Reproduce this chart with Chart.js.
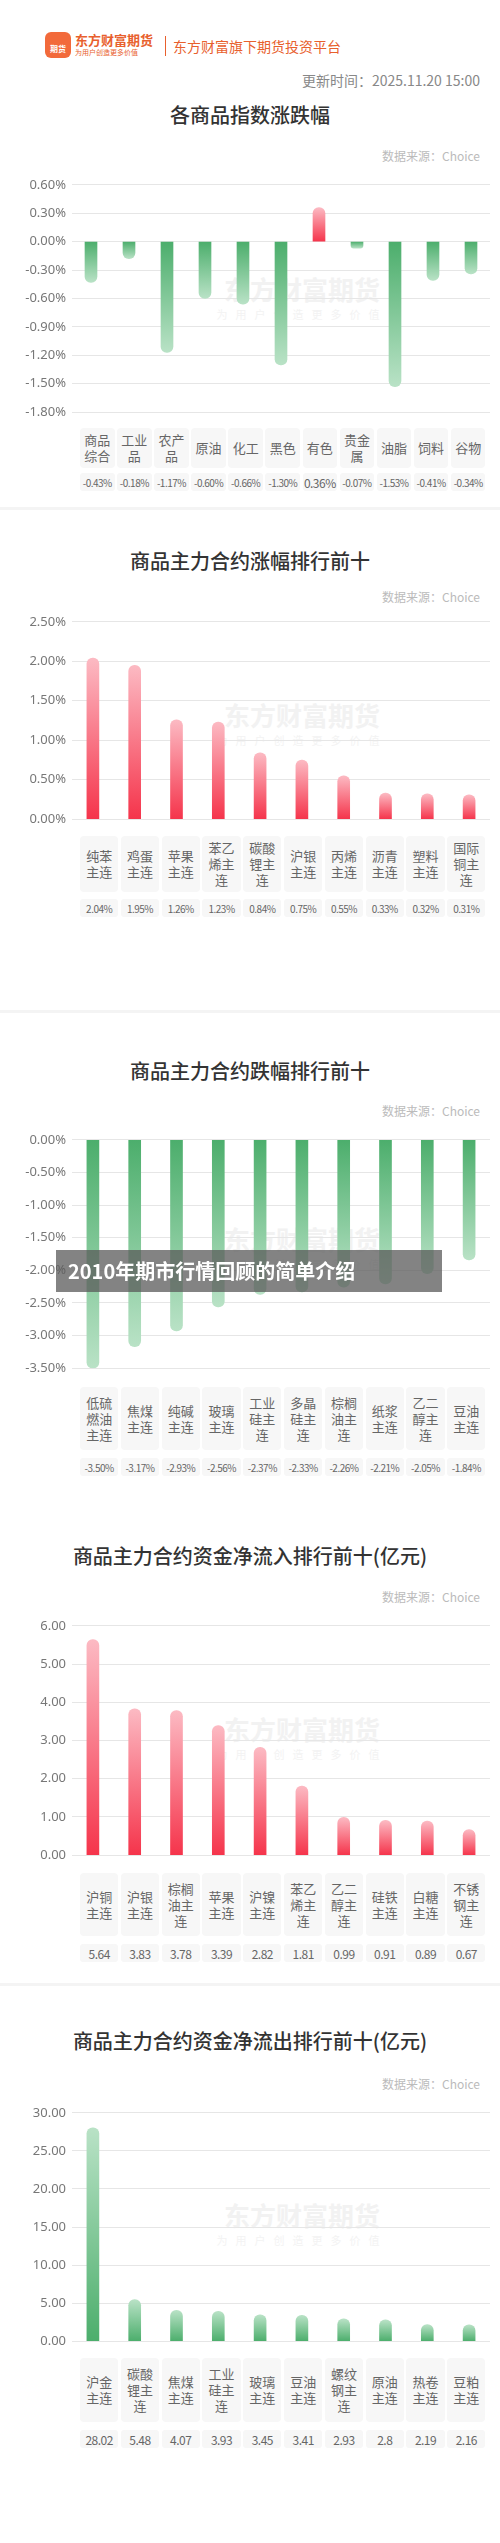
<!DOCTYPE html>
<html><head><meta charset="utf-8">
<script src="https://cdn.jsdelivr.net/npm/chart.js@4"></script>
<style>
body{margin:0;width:500px;height:2543px;background:#fff;font-family:"Noto Sans CJK SC","Noto Sans",sans-serif;position:relative;overflow:hidden}
.abs{position:absolute}
.title{left:0;width:500px;text-align:center;font-size:20px;color:#333;font-weight:500}
.src{right:20px;font-size:12px;color:#bbb}
.cell{position:absolute;background:#f7f7f7;border-radius:4px;color:#666;font-size:13px;line-height:16px;display:flex;align-items:center;justify-content:center;text-align:center;padding:0 2px;box-sizing:border-box;word-break:break-all}
.val{position:absolute;background:#f7f7f7;border-radius:3px;color:#666;font-size:10px;display:flex;align-items:center;justify-content:center;letter-spacing:-0.5px}
.sep{left:0;width:500px;height:3px;background:#f4f4f4}
.wm{width:500px;left:52px;text-align:center;color:#f2f2f2;font-size:26px;font-weight:bold}
.wm2{width:500px;left:52px;text-align:center;color:#f3f3f3;font-size:11px;letter-spacing:8px}
</style></head><body>
<div class="abs" style="left:45px;top:32px;width:26px;height:26px;background:#f26a3b;border-radius:6px;color:#fff;font-size:8px;text-align:center;line-height:34px;font-weight:bold">期货</div>
<div class="abs" style="left:75px;top:30px;color:#e8602d;font-size:13px;font-weight:bold">东方财富期货</div>
<div class="abs" style="left:75px;top:47px;color:#e8602d;font-size:7px">为用户创造更多价值</div>
<div class="abs" style="left:165px;top:36px;width:1px;height:20px;background:#e8602d"></div>
<div class="abs" style="left:173px;top:36px;color:#e8602d;font-size:14px">东方财富旗下期货投资平台</div>
<div class="abs" style="right:20px;top:70px;color:#888;font-size:14px">更新时间：2025.11.20 15:00</div>
<div class="abs sep" style="top:507px"></div>
<div class="abs sep" style="top:1010px"></div>
<div class="abs sep" style="top:1983px"></div>
<div id="root"></div>
<div class="abs" style="left:56px;top:1250px;width:386px;height:42px;background:rgba(90,90,90,0.75)"></div>
<div class="abs" style="left:68px;top:1252px;color:#fff;font-size:20px;font-weight:bold;line-height:38px">2010年期市行情回顾的简单介绍</div>
<script>
// 各商品指数涨跌幅
const idxCats = ['商品综合','工业品','农产品','原油','化工','黑色','有色','贵金属','油脂','饲料','谷物'];
const idxVals = [-0.43,-0.18,-1.17,-0.60,-0.66,-1.30,0.36,-0.07,-1.53,-0.41,-0.34];
const idxTicks = ['0.60%','0.30%','0.00%','-0.30%','-0.60%','-0.90%','-1.20%','-1.50%','-1.80%'];
// 涨幅前十
const upCats = ['纯苯主连','鸡蛋主连','苹果主连','苯乙烯主连','碳酸锂主连','沪银主连','丙烯主连','沥青主连','塑料主连','国际铜主连'];
const upVals = [2.04,1.95,1.26,1.23,0.84,0.75,0.55,0.33,0.32,0.31];
// 跌幅前十
const downCats = ['低硫燃油主连','焦煤主连','纯碱主连','玻璃主连','工业硅主连','多晶硅主连','棕榈油主连','纸浆主连','乙二醇主连','豆油主连'];
const downVals = [-3.50,-3.17,-2.93,-2.56,-2.37,-2.33,-2.26,-2.21,-2.05,-1.84];
// 资金净流入前十(亿元)
const inCats = ['沪铜主连','沪银主连','棕榈油主连','苹果主连','沪镍主连','苯乙烯主连','乙二醇主连','硅铁主连','白糖主连','不锈钢主连'];
const inVals = [5.64,3.83,3.78,3.39,2.82,1.81,0.99,0.91,0.89,0.67];
// 资金净流出前十(亿元)
const outCats = ['沪金主连','碳酸锂主连','焦煤主连','工业硅主连','玻璃主连','豆油主连','螺纹钢主连','原油主连','热卷主连','豆粕主连'];
const outVals = [28.02,5.48,4.07,3.93,3.45,3.41,2.93,2.8,2.19,2.16];

const RED = ['#fcbac3','#f5344b'];
const GREEN = ['#b9e2c6','#4cae6c'];

const sections = [
  {title:'各商品指数涨跌幅', tTop:100, sTop:147, top:179, bottom:418, min:-1.8, max:0.6, step:0.3, pct:true, cats:idxCats, vals:idxVals, labTop:428, labH:40, valTop:473, valLabels:null, wmTop:270},
  {title:'商品主力合约涨幅排行前十', tTop:546, sTop:588, top:616, bottom:825, min:0, max:2.5, step:0.5, pct:true, cats:upCats, vals:upVals, labTop:836, labH:56, valTop:899, wmTop:696},
  {title:'商品主力合约跌幅排行前十', tTop:1056, sTop:1102, top:1134, bottom:1374, min:-3.5, max:0, step:0.5, pct:true, cats:downCats, vals:downVals, labTop:1387, labH:63, valTop:1458, wmTop:1220},
  {title:'商品主力合约资金净流入排行前十(亿元)', tTop:1541, sTop:1588, top:1620, bottom:1861, min:0, max:6, step:1, pct:false, cats:inCats, vals:inVals, labTop:1873, labH:63, valTop:1944, wmTop:1710, big:true},
  {title:'商品主力合约资金净流出排行前十(亿元)', tTop:2026, sTop:2075, top:2107, bottom:2347, min:0, max:30, step:5, pct:false, cats:outCats, vals:outVals.map(v=>v), labTop:2358, labH:64, valTop:2430, wmTop:2196, big:true, green:true}
];

const root = document.getElementById('root');
sections.forEach((s, k) => {
  root.insertAdjacentHTML('beforeend',
    `<div class="abs title" style="top:${s.tTop}px">${s.title}</div>
     <div class="abs src" style="top:${s.sTop}px">数据来源：Choice</div>
     <div class="abs wm" style="top:${s.wmTop}px">东方财富期货</div>
     <div class="abs wm2" style="top:${s.wmTop+36}px">为用户创造更多价值</div>`);
  const n = s.cats.length, w = 408 / n;
  s.cats.forEach((c, i) => {
    const left = 80 + i * w;
    const txt = s.pct ? s.vals[i].toFixed(2) + '%' : String(s.vals[i]);
    root.insertAdjacentHTML('beforeend',
      `<div class="cell" style="left:${left}px;top:${s.labTop}px;width:${w-2.5}px;height:${s.labH}px">${c}</div>
       <div class="val" style="left:${left}px;top:${s.valTop}px;width:${w-2.5}px;height:18px;${s.big?'font-size:12px;':''}${(k==0&&i==6)?'font-size:12px;':''}">${txt}</div>`);
  });
  const pad = 8;
  const cv = document.createElement('div');
  cv.className = 'abs';
  cv.style.cssText = `left:0;top:${s.top-pad}px;width:490px;height:${s.bottom-s.top+2*pad}px`;
  const canvas = document.createElement('canvas');
  cv.appendChild(canvas);
  root.appendChild(cv);

  new Chart(canvas, {
    type: 'bar',
    data: {labels: s.cats, datasets: [{
      data: s.vals,
      barThickness: 12,
      borderRadius: 6,
      borderSkipped: 'start',
      backgroundColor: ctx => {
        const ch = ctx.chart, y = ch.scales.y;
        if (!ch.chartArea || !y) return '#ccc';
        const v = ctx.raw;
        const col = (v >= 0 && !s.green) ? RED : GREEN;
        const g = ch.ctx.createLinearGradient(0, y.getPixelForValue(v), 0, y.getPixelForValue(0));
        g.addColorStop(0, col[0]);
        g.addColorStop(1, col[1]);
        return g;
      }
    }]},
    options: {
      animation: false, responsive: true, maintainAspectRatio: false,
      layout: {padding: {top: pad, bottom: pad, left: 0, right: 0}},
      plugins: {legend: {display: false}, tooltip: {enabled: false}},
      scales: {
        x: {display: false},
        y: {
          min: s.min, max: s.max,
          afterFit: a => { a.width = 72; },
          border: {display: false},
          grid: {color: '#e6e6e6', drawTicks: false},
          ticks: {stepSize: s.step, padding: 6, color: '#777', font: {size: 13, family: 'Noto Sans'},
            callback: v => s.pct ? v.toFixed(2) + '%' : v.toFixed(2)}
        }
      }
    }
  });
});
</script>
</body></html>
